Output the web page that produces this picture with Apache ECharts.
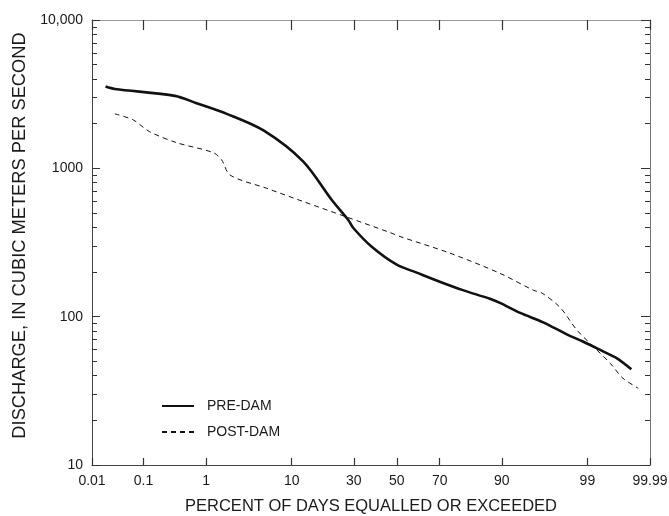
<!DOCTYPE html>
<html>
<head>
<meta charset="utf-8">
<script src="https://cdn.jsdelivr.net/npm/echarts@6/dist/echarts.min.js"></script>
<style>
  html, body { margin: 0; padding: 0; background: #fff; }
  #chart { width: 669px; height: 516px; }
</style>
</head>
<body>
<div id="chart"></div>
<script>
// percent of days equalled or exceeded / discharge (m3/s)
const preDamPct = [0.019, 0.029, 0.34, 0.73, 1.9, 5.2, 12.7, 21.4, 27.7, 29.8, 38, 50, 59.6, 70, 79, 87.2, 89.6, 93.4, 96.3, 98.1, 98.86, 99.38, 99.64, 99.79];
const preDamQ   = [3560, 3430, 3080, 2750, 2330, 1800, 1110, 612, 449, 396, 296, 224, 198, 172, 151, 132, 124, 106, 91.6, 76, 67.8, 59, 52.4, 44.2];

const postDamPct = [0.029, 0.065, 0.127, 0.36, 1.26, 1.63, 2.1, 5.6, 12.7, 27, 46.7, 51.6, 74.2, 89.6, 95.2, 96.2, 97.7, 98.6, 99.18, 99.54, 99.71, 99.84];
const postDamQ   = [2330, 2120, 1770, 1490, 1276, 1140, 900, 734, 597, 470, 369, 347, 268, 196, 151, 144, 115, 81.3, 62.8, 48.5, 38.5, 32.9];

// x tick positions (percent) and the labels printed under them
const xTickPct    = [0.01, 0.1, 1, 10, 30, 50, 70, 90, 99, 99.9];
const xTickLabels = ['0.01', '0.1', '1', '10', '30', '50', '70', '90', '99', '99.99'];

const yTickValues = [10, 100, 1000, 10000];
const yTickLabels = ['10', '100', '1000', '10,000'];
const yMinorMult  = [2, 3, 4, 5, 6, 7, 8, 9];

// normal probability scale (inverse normal cdf, Acklam)
function probit(p) {
  const a = [-3.969683028665376e+01, 2.209460984245205e+02, -2.759285104469687e+02, 1.383577518672690e+02, -3.066479806614716e+01, 2.506628277459239e+00];
  const b = [-5.447609879822406e+01, 1.615858368580409e+02, -1.556989798598866e+02, 6.680131188771972e+01, -1.328068155288572e+01];
  const c = [-7.784894002430293e-03, -3.223964580411365e-01, -2.400758277161838e+00, -2.549732539343734e+00, 4.374664141464968e+00, 2.938163982698783e+00];
  const d = [7.784695709041462e-03, 3.224671290700398e-01, 2.445134137142996e+00, 3.754408661907416e+00];
  const pl = 0.02425;
  let q, r;
  if (p < pl) {
    q = Math.sqrt(-2 * Math.log(p));
    return (((((c[0]*q+c[1])*q+c[2])*q+c[3])*q+c[4])*q+c[5]) / ((((d[0]*q+d[1])*q+d[2])*q+d[3])*q+1);
  }
  if (p > 1 - pl) {
    q = Math.sqrt(-2 * Math.log(1 - p));
    return -(((((c[0]*q+c[1])*q+c[2])*q+c[3])*q+c[4])*q+c[5]) / ((((d[0]*q+d[1])*q+d[2])*q+d[3])*q+1);
  }
  q = p - 0.5; r = q * q;
  return (((((a[0]*r+a[1])*r+a[2])*r+a[3])*r+a[4])*r+a[5])*q / (((((b[0]*r+b[1])*r+b[2])*r+b[3])*r+b[4])*r+1);
}
const pz = pct => probit(pct / 100);

const xTickZ = xTickPct.map(pz);
const xMin = xTickZ[0], xMax = xTickZ[xTickZ.length - 1];
const yMinor = [];
[10, 100, 1000].forEach(d => yMinorMult.forEach(m => yMinor.push(d * m)));

function xLabel(v) {
  let best = 0;
  xTickZ.forEach((z, i) => { if (Math.abs(z - v) < Math.abs(xTickZ[best] - v)) best = i; });
  return xTickLabels[best];
}

const font = 'Liberation Sans';
const ink = '#1a1a1a';
const tickColor = '#333';

// log y axes that only draw the frame ticks on the plot edges
function logAxis(pos, ticks, len, line, extra) {
  return Object.assign({
    type: 'log', logBase: 10, position: pos, min: 10, max: 10000,
    axisLine: { show: !!line, onZero: false, lineStyle: { color: line || '#444', width: 1 } },
    axisTick: { show: true, inside: true, length: len, customValues: ticks, lineStyle: { color: tickColor, width: 1 } },
    axisLabel: { show: false },
    splitLine: { show: false }
  }, extra || {});
}

const chart = echarts.init(document.getElementById('chart'));
chart.setOption({
  animation: false,
  backgroundColor: '#fff',
  textStyle: { fontFamily: font, color: ink },
  grid: { left: 92, right: 19, top: 20, bottom: 51, outerBoundsMode: 'none' },
  legend: {
    orient: 'vertical',
    left: 156, top: 394,
    itemWidth: 32, itemHeight: 14, itemGap: 12,
    itemStyle: { opacity: 0 },
    textStyle: { fontFamily: font, fontSize: 14, color: ink, padding: [0, 0, 0, 8] },
    data: ['PRE-DAM', 'POST-DAM']
  },
  xAxis: [{
    type: 'value', position: 'bottom', min: xMin, max: xMax,
    axisLine: { show: true, onZero: false, lineStyle: { color: '#444', width: 1 } },
    axisTick: { show: true, inside: true, length: 7, customValues: xTickZ, lineStyle: { color: tickColor, width: 1.2 } },
    axisLabel: { customValues: xTickZ, formatter: xLabel, fontSize: 14, color: ink, margin: 9, fontFamily: font },
    splitLine: { show: false },
    name: 'PERCENT OF DAYS EQUALLED OR EXCEEDED',
    nameLocation: 'middle', nameGap: 33,
    nameTextStyle: { fontSize: 16.5, color: ink, fontFamily: font }
  }, {
    type: 'value', position: 'top', min: xMin, max: xMax,
    axisLine: { show: true, onZero: false, lineStyle: { color: '#999', width: 1 } },
    axisTick: { show: true, inside: true, length: 10, customValues: xTickZ, lineStyle: { color: tickColor, width: 1.2 } },
    axisLabel: { show: false },
    splitLine: { show: false }
  }],
  yAxis: [
    logAxis('left', yTickValues, 8, '#444', {
      axisLabel: {
        customValues: yTickValues, fontSize: 14, color: ink, margin: 9, fontFamily: font,
        formatter: v => yTickLabels[yTickValues.indexOf(Math.round(v))]
      },
      name: 'DISCHARGE, IN CUBIC METERS PER SECOND',
      nameLocation: 'middle', nameGap: 62,
      nameTextStyle: { fontSize: 18.3, color: ink, fontFamily: font, padding: [0, 0, 0, 14] }
    }),
    logAxis('right', yTickValues, 9, '#777'),
    logAxis('left', yMinor, 5, null),
    logAxis('right', yMinor, 5, null)
  ],
  series: [{
    name: 'PRE-DAM', type: 'line', symbol: 'none',
    smooth: 0.3,
    lineStyle: { color: '#111', width: 2.6 },
    itemStyle: { color: '#111' },
    data: preDamPct.map((p, i) => [pz(p), preDamQ[i]])
  }, {
    name: 'POST-DAM', type: 'line', symbol: 'none',
    smooth: 0.3,
    lineStyle: { color: '#111', width: 1, type: [5, 4] },
    itemStyle: { color: '#111' },
    data: postDamPct.map((p, i) => [pz(p), postDamQ[i]])
  }]
});
</script>
</body>
</html>
